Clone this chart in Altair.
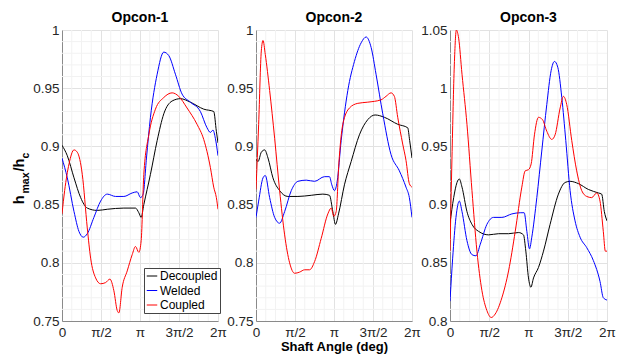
import altair as alt
import pandas as pd

FONT = "Liberation Sans"
SERIES = ["Decoupled", "Welded", "Coupled"]
COLORS = ["#000000", "#0000ff", "#ff0000"]

# x values are shaft angle in units of pi (0 .. 2 = 0 .. 2pi)
# ---------------- Opcon-1 ----------------
p1_dec_x = [0, 0.068, 0.154, 0.239, 0.324, 0.452, 0.580, 0.793, 0.942, 0.985, 1.015, 1.049, 1.134, 1.220, 1.305, 1.412, 1.518, 1.646, 1.817, 1.945, 1.979, 2.0]
p1_dec_y = [0.901, 0.892, 0.873, 0.856, 0.847, 0.845, 0.846, 0.847, 0.847, 0.843, 0.839, 0.850, 0.876, 0.905, 0.928, 0.939, 0.941, 0.938, 0.932, 0.930, 0.913, 0.903]
p1_wel_x = [0, 0.068, 0.154, 0.217, 0.273, 0.324, 0.409, 0.495, 0.580, 0.687, 0.793, 0.900, 0.964, 1.006, 1.041, 1.083, 1.134, 1.220, 1.305, 1.369, 1.454, 1.539, 1.646, 1.774, 1.859, 1.902, 1.936, 1.966, 2.0]
p1_wel_y = [0.890, 0.873, 0.844, 0.827, 0.822, 0.825, 0.839, 0.853, 0.859, 0.857, 0.857, 0.860, 0.861, 0.856, 0.859, 0.890, 0.925, 0.962, 0.981, 0.978, 0.962, 0.945, 0.938, 0.930, 0.916, 0.912, 0.914, 0.907, 0.892]
p1_cou_x = [0, 0.034, 0.090, 0.154, 0.196, 0.260, 0.324, 0.367, 0.431, 0.495, 0.559, 0.614, 0.665, 0.708, 0.729, 0.772, 0.836, 0.900, 0.942, 0.985, 1.015, 1.049, 1.113, 1.198, 1.305, 1.412, 1.497, 1.603, 1.731, 1.817, 1.902, 1.945, 1.979, 2.0]
p1_cou_y = [0.842, 0.862, 0.885, 0.897, 0.895, 0.876, 0.830, 0.804, 0.787, 0.782, 0.783, 0.786, 0.776, 0.759, 0.757, 0.779, 0.793, 0.807, 0.814, 0.809, 0.819, 0.876, 0.910, 0.932, 0.942, 0.946, 0.943, 0.933, 0.919, 0.906, 0.882, 0.865, 0.856, 0.846]

# ---------------- Opcon-2 ----------------
p2_dec_x = [0, 0.026, 0.068, 0.111, 0.154, 0.217, 0.303, 0.409, 0.537, 0.708, 0.857, 0.942, 0.985, 1.019, 1.058, 1.134, 1.220, 1.326, 1.433, 1.527, 1.646, 1.817, 1.945, 1.970, 2.0]
p2_dec_y = [0.889, 0.887, 0.895, 0.897, 0.890, 0.873, 0.862, 0.857, 0.857, 0.858, 0.859, 0.858, 0.844, 0.833, 0.842, 0.867, 0.887, 0.910, 0.923, 0.927, 0.925, 0.919, 0.916, 0.905, 0.890]
p2_wel_x = [0, 0.034, 0.090, 0.119, 0.175, 0.239, 0.303, 0.367, 0.452, 0.537, 0.644, 0.751, 0.878, 0.942, 0.972, 1.006, 1.041, 1.092, 1.177, 1.262, 1.348, 1.412, 1.476, 1.539, 1.625, 1.731, 1.838, 1.923, 1.966, 2.0]
p2_wel_y = [0.839, 0.853, 0.873, 0.875, 0.856, 0.839, 0.834, 0.844, 0.862, 0.870, 0.871, 0.870, 0.874, 0.874, 0.867, 0.862, 0.870, 0.905, 0.948, 0.973, 0.989, 0.994, 0.985, 0.962, 0.928, 0.893, 0.879, 0.865, 0.856, 0.839]
p2_cou_x = [0, 0.034, 0.068, 0.090, 0.119, 0.175, 0.239, 0.303, 0.367, 0.431, 0.495, 0.559, 0.623, 0.687, 0.751, 0.836, 0.921, 0.964, 0.998, 1.028, 1.062, 1.113, 1.198, 1.305, 1.433, 1.603, 1.667, 1.731, 1.774, 1.817, 1.881, 1.923, 1.966, 2.0]
p2_cou_y = [0.863, 0.919, 0.982, 0.991, 0.979, 0.948, 0.907, 0.862, 0.824, 0.800, 0.791, 0.792, 0.794, 0.794, 0.801, 0.821, 0.842, 0.847, 0.840, 0.844, 0.885, 0.919, 0.933, 0.937, 0.938, 0.940, 0.943, 0.946, 0.943, 0.925, 0.902, 0.888, 0.868, 0.865]

# ---------------- Opcon-3 ----------------
p3_dec_x = [0, 0.047, 0.089, 0.119, 0.153, 0.216, 0.280, 0.364, 0.492, 0.619, 0.746, 0.873, 0.936, 0.966, 1.0, 1.030, 1.064, 1.127, 1.191, 1.275, 1.381, 1.466, 1.530, 1.636, 1.763, 1.890, 1.932, 1.966, 2.0]
p3_dec_y = [0.884, 0.906, 0.919, 0.922, 0.915, 0.894, 0.883, 0.877, 0.874, 0.875, 0.875, 0.876, 0.874, 0.860, 0.837, 0.829, 0.837, 0.846, 0.860, 0.883, 0.909, 0.919, 0.920, 0.918, 0.913, 0.910, 0.909, 0.894, 0.886]
p3_wel_x = [0, 0.034, 0.076, 0.119, 0.153, 0.216, 0.280, 0.331, 0.386, 0.470, 0.555, 0.661, 0.788, 0.894, 0.945, 0.979, 1.013, 1.042, 1.106, 1.169, 1.233, 1.288, 1.331, 1.373, 1.424, 1.475, 1.530, 1.593, 1.657, 1.742, 1.826, 1.911, 1.953, 2.0]
p3_wel_y = [0.817, 0.854, 0.889, 0.903, 0.894, 0.869, 0.857, 0.856, 0.866, 0.883, 0.889, 0.889, 0.892, 0.893, 0.893, 0.877, 0.862, 0.872, 0.906, 0.946, 0.986, 1.015, 1.023, 1.018, 0.992, 0.955, 0.912, 0.886, 0.872, 0.863, 0.852, 0.834, 0.820, 0.818]
p3_cou_x = [0, 0.025, 0.055, 0.081, 0.110, 0.153, 0.216, 0.280, 0.343, 0.407, 0.470, 0.525, 0.576, 0.661, 0.746, 0.831, 0.915, 0.958, 1.0, 1.034, 1.076, 1.127, 1.178, 1.233, 1.297, 1.339, 1.403, 1.445, 1.487, 1.551, 1.614, 1.678, 1.742, 1.805, 1.869, 1.911, 1.953, 1.979, 2.0]
p3_cou_y = [0.860, 0.940, 1.020, 1.050, 1.043, 1.012, 0.969, 0.912, 0.860, 0.826, 0.809, 0.803, 0.806, 0.820, 0.843, 0.877, 0.915, 0.929, 0.930, 0.935, 0.960, 0.975, 0.973, 0.963, 0.956, 0.960, 0.983, 0.993, 0.986, 0.955, 0.929, 0.912, 0.907, 0.906, 0.910, 0.903, 0.877, 0.860, 0.860]

x_ticks = [0, 0.5, 1, 1.5, 2]
y_ticks_12 = [0.75, 0.8, 0.85, 0.9, 0.95, 1.0]
y_ticks_3 = [0.8, 0.85, 0.9, 0.95, 1.0, 1.05]
panel_titles = ["Opcon-1", "Opcon-2", "Opcon-3"]

# minor grid positions (x in pi units, y in 0.01 steps)
x_minor = [k / 8 for k in range(17) if k % 4 != 0]


def y_minor(lo, hi):
    vals = []
    for i in range(int(round(lo * 100)), int(round(hi * 100)) + 1):
        if i % 5 != 0:
            vals.append(i / 100)
    return vals


x_label_expr = ("datum.value == 0 ? '0' : datum.value == 0.5 ? 'π/2' : datum.value == 1 ? 'π' : "
                "datum.value == 1.5 ? '3π/2' : '2π'")


def make_df(series):
    rows = []
    for name, xs, ys in series:
        for i, (a, b) in enumerate(zip(xs, ys)):
            rows.append({"x": a, "y": b, "series": name, "i": i})
    return pd.DataFrame(rows)


def panel(title, series, ydom, yticks, width, xtitle=None, legend=False, ytitle=False):
    xenc = alt.X("x:Q", scale=alt.Scale(domain=[0, 2], nice=False, zero=False),
                 axis=alt.Axis(values=x_ticks, labelExpr=x_label_expr, title=xtitle,
                               grid=True, labelFlush=False))
    yenc = alt.Y("y:Q", scale=alt.Scale(domain=ydom, nice=False, zero=False),
                 axis=alt.Axis(values=yticks, format="~g", title=None, grid=True,
                               labelFlush=False))

    xm = alt.Chart(pd.DataFrame({"x": x_minor})).mark_rule(
        color="#f2f2f2", strokeWidth=1).encode(x=xenc)
    ym = alt.Chart(pd.DataFrame({"y": y_minor(ydom[0], ydom[1])})).mark_rule(
        color="#f2f2f2", strokeWidth=1).encode(y=yenc)

    if legend:
        leg = alt.Legend(orient="none", legendX=82, legendY=238, title=None,
                         symbolType="stroke", symbolSize=110, symbolStrokeWidth=1,
                         labelFont=FONT, labelFontSize=12, labelColor="#000000",
                         strokeColor="#444444", fillColor="white", padding=2,
                         rowPadding=2.5, labelOffset=2, cornerRadius=0)
    else:
        leg = None
    lines = alt.Chart(make_df(series)).mark_line(
        strokeWidth=1.0, interpolate="monotone", clip=True).encode(
        x=xenc, y=yenc,
        color=alt.Color("series:N", sort=SERIES,
                        scale=alt.Scale(domain=SERIES, range=COLORS), legend=leg),
        order=alt.Order("i:Q"),
    )
    ttl = alt.Chart(pd.DataFrame({"t": [title]})).mark_text(
        align="center", baseline="alphabetic", font=FONT, fontWeight="bold",
        fontSize=14, color="#000000").encode(
        text="t:N", x=alt.value(width / 2), y=alt.value(-8.5))
    layers = [xm, ym, lines, ttl]
    if ytitle:
        parts = [("h", 14.5, -37.7, 174.3), ("max", 10.5, -33.0, 163.5),
                 ("/h", 14.5, -37.7, 141.5), ("c", 10.5, -33.0, 128.5)]
        for txt, fs, px, py in parts:
            layers.append(
                alt.Chart(pd.DataFrame({"t": [txt]})).mark_text(
                    angle=270, align="left", baseline="alphabetic", font=FONT,
                    fontWeight="bold", fontSize=fs, color="#000000").encode(
                    text="t:N", x=alt.value(px), y=alt.value(py)))
    return alt.layer(*layers).properties(width=width, height=291)


p1 = panel(panel_titles[0], [("Decoupled", p1_dec_x, p1_dec_y), ("Welded", p1_wel_x, p1_wel_y),
                             ("Coupled", p1_cou_x, p1_cou_y)], [0.75, 1.0], y_ticks_12, 156,
           legend=True, ytitle=True)
p2 = panel(panel_titles[1], [("Decoupled", p2_dec_x, p2_dec_y), ("Welded", p2_wel_x, p2_wel_y),
                             ("Coupled", p2_cou_x, p2_cou_y)], [0.75, 1.0], y_ticks_12, 156,
           xtitle="Shaft Angle (deg)")
p3 = panel(panel_titles[2], [("Decoupled", p3_dec_x, p3_dec_y), ("Welded", p3_wel_x, p3_wel_y),
                             ("Coupled", p3_cou_x, p3_cou_y)], [0.8, 1.05], y_ticks_3, 157)

chart = alt.hconcat(p1, p2, p3, spacing=38, bounds="flush").resolve_legend(
    color="independent").resolve_scale(color="independent").properties(
    padding={"left": 12, "top": 10, "right": 0, "bottom": 0}
).configure_view(stroke=None).configure_axis(
    labelFont=FONT, labelFontSize=13.5, labelColor="#262626", labelPadding=3,
    domainColor="#8a8a8a", domainWidth=1, tickSize=0, ticks=False,
    gridColor="#e2e2e2", gridWidth=1,
    titleFont=FONT, titleFontSize=13, titleFontWeight="bold", titleColor="#000000",
    titlePadding=2,
).configure_axisX(labelPadding=4, domain=True).configure_axisY(domain=True)

chart.save("out.html", embed_options={"renderer": "svg", "actions": False})
